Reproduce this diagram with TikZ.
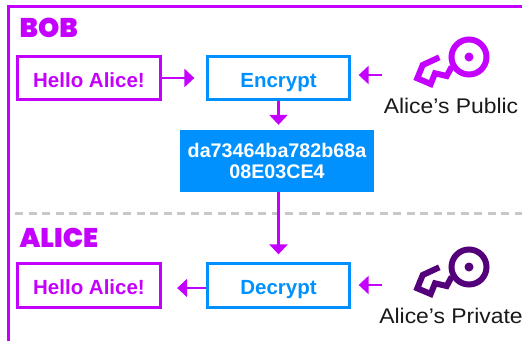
\documentclass[tikz,border=0pt]{standalone}
\usepackage{fontspec}
\setmainfont{Liberation Sans}
\newfontfamily\headfont{Poppins Black}
\newfontfamily\keyfont[FakeStretch=1.08]{Liberation Sans}
\usetikzlibrary{arrows.meta}
\definecolor{bobpurple}{HTML}{C400FF}
\definecolor{boxblue}{HTML}{0091FF}
\definecolor{keydark}{HTML}{53007A}
\definecolor{dashgray}{HTML}{C8C8C8}
\tikzset{
  msgbox/.style={draw=bobpurple,line width=2.8pt,minimum width=143.5pt,minimum height=43.5pt,text height=18pt,text depth=0pt,text=bobpurple,font=\bfseries\fontsize{20.5}{22}\selectfont},
  cryptbox/.style={draw=boxblue,line width=2.8pt,minimum width=141.5pt,minimum height=43.5pt,text height=18pt,text depth=0pt,text=boxblue,font=\bfseries\fontsize{20.5}{22}\selectfont},
  cipherbox/.style={fill=boxblue,minimum width=194pt,minimum height=62pt,inner xsep=0pt,text=white,align=center,font=\bfseries\fontsize{19.7}{21}\selectfont},
  keylabel/.style={text=black!90,anchor=base,font=\keyfont\fontsize{21.2}{23}\selectfont},
  partname/.style={text=bobpurple,anchor=base west,font=\headfont\fontsize{27}{29}\selectfont},
  flow/.style={draw=bobpurple,line width=2.8pt,-{Triangle[length=10pt,width=18pt]}}
}
\begin{document}
\begin{tikzpicture}[x=1pt,y=-1pt]
\useasboundingbox (0,0) rectangle (522,341);

\draw[bobpurple,line width=3pt] (8,341) -- (8,6) -- (522,6);
\draw[dashgray,line width=3pt,dash pattern=on 8pt off 5.5pt] (15,213) -- (522,213);

\node[partname] (bob) at (16,37) {BOB};
\node[partname] (alice) at (16,247) {ALICE};

\node[msgbox] (hellotop) at (89,78) {Hello Alice!};
\node[cryptbox] (encrypt) at (278.5,78) {Encrypt};
\node[cipherbox] (cipher) at (277,161) {da73464ba782b68a\\08E03CE4};
\node[cryptbox] (decrypt) at (278.5,285.5) {Decrypt};
\node[msgbox] (hellobot) at (89,285.5) {Hello Alice!};

\node[keylabel] (pubname) at (451,113) {Alice’s Public};
\node[keylabel] (privname) at (451,323) {Alice’s Private};

% the two keys only differ in height and colour
\foreach \h/\c in {0/bobpurple,210/keydark}
{
  \draw[\c,line width=6pt,miter limit=4] (439.3,57.3+\h) -- (422.7,65+\h) -- (417.3,78.3+\h) -- (430.7,84+\h) -- (435,73.3+\h) -- (446.7,76+\h) -- (451.7,66.7+\h);
  \draw[\c,line width=6pt] (469,57+\h) circle (17.5);
  \fill[\c] (469,57+\h) circle (4.5);
}

\coordinate (pubend) at (382,75);
\coordinate (privend) at (382,285);

\draw[flow,shorten >=12pt] (hellotop) -- (encrypt);
\draw[flow,shorten >=5pt] (encrypt) -- (encrypt |- cipher.north);
\draw[flow,shorten >=8pt] (encrypt |- cipher.south) -- (decrypt);
\draw[flow,shorten >=15pt] ([yshift=-2.5pt]decrypt.west) -- ([yshift=-2.5pt]hellobot.east);
\draw[flow,shorten >=8pt] (pubend) -- (encrypt.east |- pubend);
\draw[flow,shorten >=8pt] (privend) -- (decrypt.east |- privend);
\end{tikzpicture}
\end{document}
